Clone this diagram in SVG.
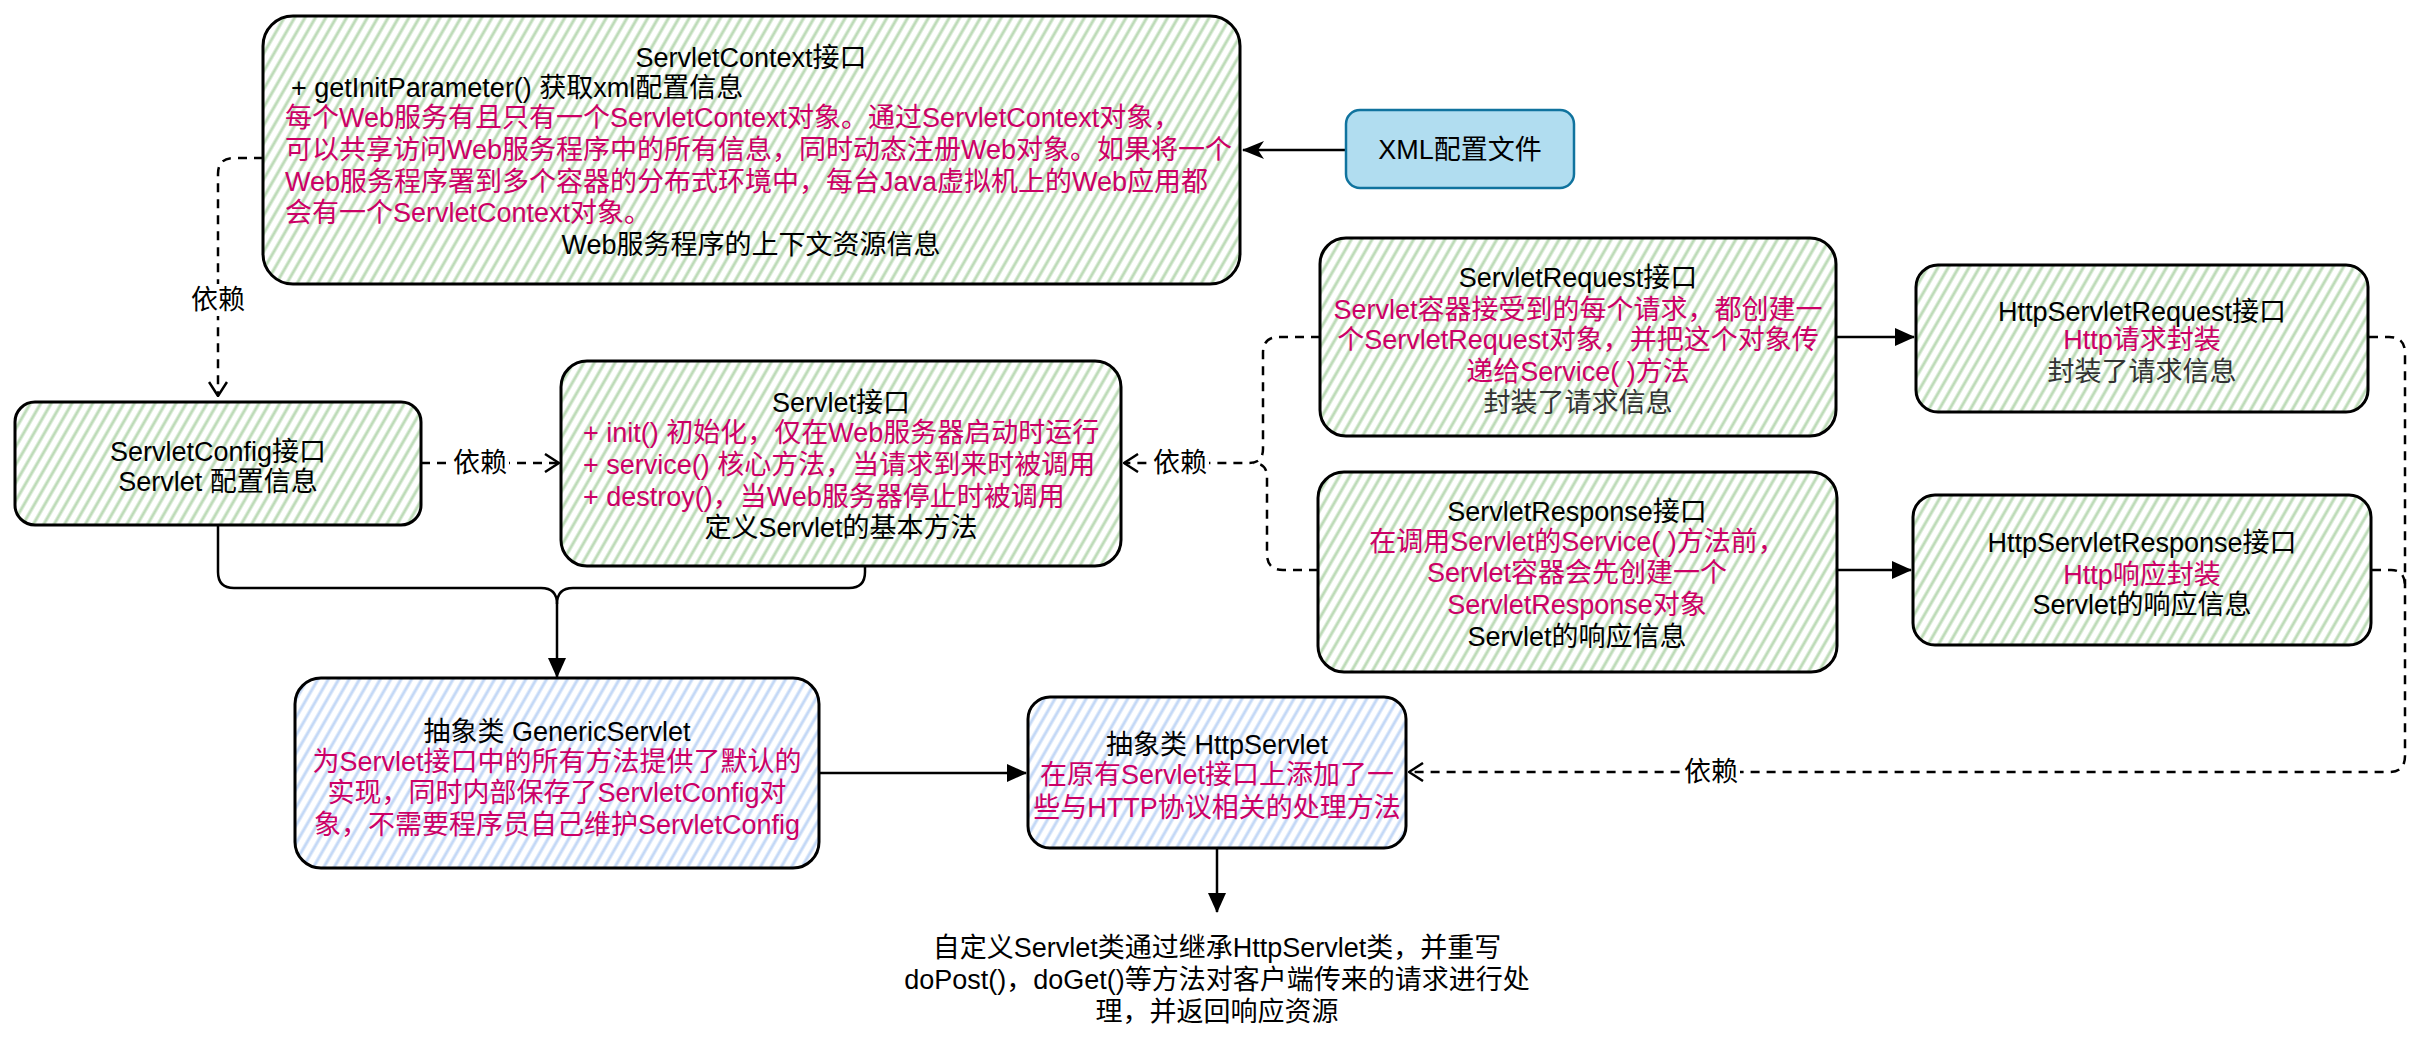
<svg xmlns="http://www.w3.org/2000/svg" width="2420" height="1046" viewBox="0 0 2420 1046">
<style>
text{font-family:"Liberation Sans","Noto Sans CJK SC",sans-serif;font-size:27px;fill:#000}
.c{text-anchor:middle}
.r{fill:#CC0066}
.g{fill:#333333}
.box{stroke:#000;stroke-width:3;stroke-linejoin:round}
.gr{fill:url(#hg)}
.bl{fill:url(#hb)}
.ln{fill:none;stroke:#000;stroke-width:2.5}
.ds{fill:none;stroke:#000;stroke-width:2.5;stroke-dasharray:9 7}
.lbg{fill:#fff}
</style>
<defs>
<pattern id="hg" patternUnits="userSpaceOnUse" width="9" height="9" patternTransform="rotate(30)">
<rect width="9" height="9" fill="#fff"/>
<line x1="3" y1="0" x2="3" y2="9" stroke="#bddbb8" stroke-width="3"/>
</pattern>
<pattern id="hb" patternUnits="userSpaceOnUse" width="9" height="9" patternTransform="rotate(30)">
<rect width="9" height="9" fill="#fff"/>
<line x1="3" y1="0" x2="3" y2="9" stroke="#c3d8f6" stroke-width="3"/>
</pattern>
<marker id="block" markerWidth="20" markerHeight="18" refX="19" refY="9" orient="auto" markerUnits="userSpaceOnUse">
<path d="M0,0 L20,9 L0,18 Z" fill="#000"/>
</marker>
<marker id="classic" markerWidth="22" markerHeight="18" refX="21" refY="9" orient="auto" markerUnits="userSpaceOnUse">
<path d="M0,0 L22,9 L0,18 L6,9 Z" fill="#000"/>
</marker>
<marker id="open" markerWidth="16" markerHeight="20" refX="15" refY="10" orient="auto" markerUnits="userSpaceOnUse">
<path d="M1,1 L15,10 L1,19" fill="none" stroke="#000" stroke-width="2.5"/>
</marker>
</defs>
<rect width="2420" height="1046" fill="#fff"/>

<g id="connectors">
<path class="ln" d="M1345,150 H1243" marker-end="url(#classic)"/>
<path class="ds" d="M263,158 H234 Q218,158 218,174 V396" marker-end="url(#open)"/>
<rect class="lbg" x="189" y="284" width="58" height="32"/>
<text class="c" x="218" y="309">依赖</text>
<path class="ds" d="M421,463 H559" marker-end="url(#open)"/>
<rect class="lbg" x="451" y="447" width="58" height="32"/>
<text class="c" x="480" y="472">依赖</text>
<path class="ln" d="M218,526 V572 Q218,588 234,588 H541 Q557,588 557,604 V677" marker-end="url(#block)"/>
<path class="ln" d="M865,567 V572 Q865,588 849,588 H573 Q557,588 557,604"/>
<path class="ln" d="M1837,337 H1914" marker-end="url(#block)"/>
<path class="ln" d="M1838,570 H1911" marker-end="url(#block)"/>
<path class="ds" d="M1320,337 H1279 Q1263,337 1263,353 V449 Q1263,463 1249,463 H1124" marker-end="url(#open)"/>
<path class="ds" d="M1318,570 H1283 Q1267,570 1267,554 V477 Q1267,463 1253,463"/>
<rect class="lbg" x="1151" y="447" width="58" height="32"/>
<text class="c" x="1180" y="472">依赖</text>
<path class="ds" d="M2369,337 H2389 Q2405,337 2405,353 V756 Q2405,772 2389,772 H1409" marker-end="url(#open)"/>
<path class="ds" d="M2372,570 H2391 Q2405,570 2405,586"/>
<rect class="lbg" x="1682" y="756" width="58" height="32"/>
<text class="c" x="1711" y="781">依赖</text>
<path class="ln" d="M819,773 H1026" marker-end="url(#block)"/>
<path class="ln" d="M1217,849 V912" marker-end="url(#block)"/>
</g>

<g id="servletContext">
<rect class="box gr" x="263" y="16" width="977" height="268" rx="30"/>
<text class="c" x="751" y="67">ServletContext接口</text>
<text x="291" y="97">+ getInitParameter() 获取xml配置信息</text>
<text class="r" x="285" y="127">每个Web服务有且只有一个ServletContext对象。通过ServletContext对象，</text>
<text class="r" x="285" y="159">可以共享访问Web服务程序中的所有信息，同时动态注册Web对象。如果将一个</text>
<text class="r" x="285" y="191">Web服务程序署到多个容器的分布式环境中，每台Java虚拟机上的Web应用都</text>
<text class="r" x="285" y="222">会有一个ServletContext对象。</text>
<text class="c" x="751" y="254">Web服务程序的上下文资源信息</text>
</g>

<g id="xmlConfig">
<rect x="1346" y="110" width="228" height="78" rx="14" fill="#b1ddf0" stroke="#10739e" stroke-width="2.5"/>
<text class="c" x="1460" y="159">XML配置文件</text>
</g>

<g id="servletConfig">
<rect class="box gr" x="15" y="402" width="406" height="123" rx="20"/>
<text class="c" x="218" y="461">ServletConfig接口</text>
<text class="c" x="218" y="491">Servlet 配置信息</text>
</g>

<g id="servlet">
<rect class="box gr" x="561" y="361" width="560" height="205" rx="26"/>
<text class="c" x="841" y="412">Servlet接口</text>
<text class="r" x="583" y="442">+ init() 初始化，仅在Web服务器启动时运行</text>
<text class="r" x="583" y="474">+ service() 核心方法，当请求到来时被调用</text>
<text class="r" x="583" y="506">+ destroy()，当Web服务器停止时被调用</text>
<text class="c" x="841" y="537">定义Servlet的基本方法</text>
</g>

<g id="servletRequest">
<rect class="box gr" x="1320" y="238" width="516" height="198" rx="26"/>
<text class="c" x="1578" y="287">ServletRequest接口</text>
<text class="c r" x="1578" y="319">Servlet容器接受到的每个请求，都创建一</text>
<text class="c r" x="1578" y="349">个ServletRequest对象，并把这个对象传</text>
<text class="c r" x="1578" y="381">递给Service( )方法</text>
<text class="c g" x="1578" y="412">封装了请求信息</text>
</g>

<g id="httpServletRequest">
<rect class="box gr" x="1916" y="265" width="452" height="147" rx="22"/>
<text class="c" x="2142" y="321">HttpServletRequest接口</text>
<text class="c r" x="2142" y="349">Http请求封装</text>
<text class="c g" x="2142" y="381">封装了请求信息</text>
</g>

<g id="servletResponse">
<rect class="box gr" x="1318" y="472" width="519" height="200" rx="26"/>
<text class="c" x="1577" y="521">ServletResponse接口</text>
<text class="c r" x="1577" y="551">在调用Servlet的Service( )方法前，</text>
<text class="c r" x="1577" y="582">Servlet容器会先创建一个</text>
<text class="c r" x="1577" y="614">ServletResponse对象</text>
<text class="c" x="1577" y="646">Servlet的响应信息</text>
</g>

<g id="httpServletResponse">
<rect class="box gr" x="1913" y="495" width="458" height="150" rx="22"/>
<text class="c" x="2142" y="552">HttpServletResponse接口</text>
<text class="c r" x="2142" y="584">Http响应封装</text>
<text class="c" x="2142" y="614">Servlet的响应信息</text>
</g>

<g id="genericServlet">
<rect class="box bl" x="295" y="678" width="524" height="190" rx="26"/>
<text class="c" x="557" y="741">抽象类 GenericServlet</text>
<text class="c r" x="557" y="771">为Servlet接口中的所有方法提供了默认的</text>
<text class="c r" x="557" y="802">实现，同时内部保存了ServletConfig对</text>
<text class="c r" x="557" y="834">象，不需要程序员自己维护ServletConfig</text>
</g>

<g id="httpServlet">
<rect class="box bl" x="1028" y="697" width="378" height="151" rx="22"/>
<text class="c" x="1217" y="754">抽象类 HttpServlet</text>
<text class="c r" x="1217" y="784">在原有Servlet接口上添加了一</text>
<text class="c r" x="1217" y="817">些与HTTP协议相关的处理方法</text>
</g>

<g id="customServlet">
<text class="c" x="1217" y="957">自定义Servlet类通过继承HttpServlet类，并重写</text>
<text class="c" x="1217" y="989">doPost()，doGet()等方法对客户端传来的请求进行处</text>
<text class="c" x="1217" y="1021">理，并返回响应资源</text>
</g>
</svg>
